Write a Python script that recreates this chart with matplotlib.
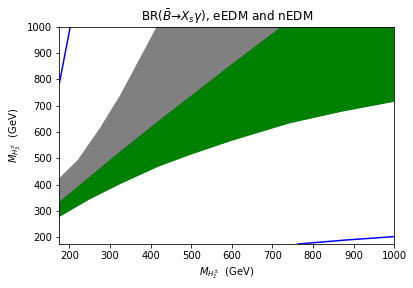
import numpy as np
from matplotlib import pyplot as plt

# boundary of region allowed by BR(B->Xs gamma) + eEDM (grey, upper edge)
grayTopX = [175, 220, 275, 325, 370, 415, 450, 1000]
grayTopY = [425, 493, 615, 740, 870, 1000, 1110, 1400]

# region allowed by all three (green)
greenLowX = [175, 250, 328, 418, 500, 600, 742, 870, 1000]
greenLowY = [278, 345, 405, 468, 515, 567, 633, 677, 715]
greenTopX = [175, 300, 418, 600, 722, 1000]
greenTopY = [335, 495, 641, 858, 1000, 1310]

# blue contour lines
blue1X = [175, 202]
blue1Y = [784, 1000]
blue2X = [763, 880, 1000]
blue2Y = [175, 190, 203]

fig = plt.figure(figsize=(413/72, 288/72), dpi=72)
ax = fig.add_axes([0.1436, 0.1528, 0.811, 0.755])

#grey
px = list(greenLowX) + list(grayTopX[::-1])
py = list(greenLowY) + list(grayTopY[::-1])
ax.fill(px, py, color='gray', lw=0)
#green
px = list(greenLowX) + list(greenTopX[::-1])
py = list(greenLowY) + list(greenTopY[::-1])
ax.fill(px, py, color='green', lw=0)
#blue
ax.plot(blue1X, blue1Y, color='blue', lw=1.5)
ax.plot(blue2X, blue2Y, color='blue', lw=1.5)

ax.set_xlim(175, 1000)
ax.set_ylim(175, 1000)
ax.set_xticks(np.arange(200, 1001, 100))
ax.set_yticks(np.arange(200, 1001, 100))
ax.set_xlabel(r'$M_{H_2^{\pm}}$  (GeV)')
ax.set_ylabel(r'$M_{H_3^{\pm}}$  (GeV)')
ax.set_title(r'BR($\bar{B}$→$X_s\gamma$), eEDM and nEDM')

fig.savefig('out.png', dpi=72)
